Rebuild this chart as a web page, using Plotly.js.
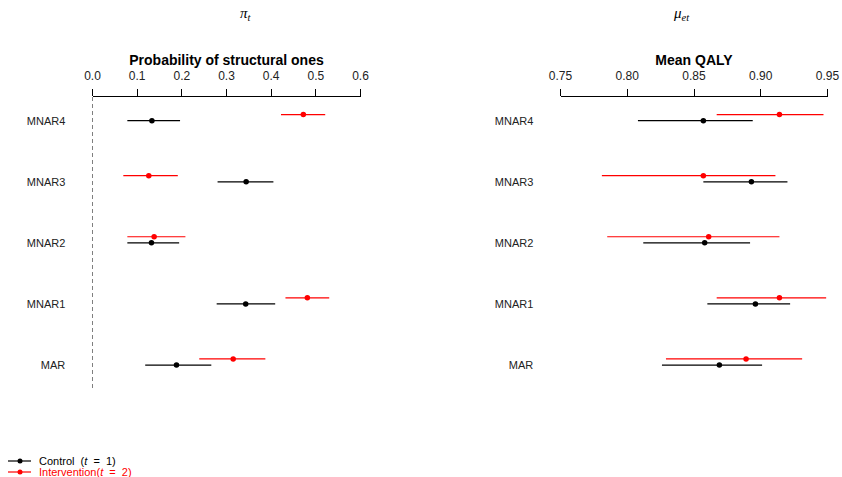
<!DOCTYPE html>
<html>
<head>
<meta charset="utf-8">
<script src="https://cdn.plot.ly/plotly-3.0.1.min.js"></script>
<style>html,body{margin:0;padding:0;background:#fff;}#chart{width:842px;height:477px;}</style>
</head>
<body>
<div id="chart"></div>
<script>
// categories (bottom to top)
const categories = ['MAR', 'MNAR1', 'MNAR2', 'MNAR3', 'MNAR4'];

// Probability of structural ones (pi_t)
const piControlMean  = [0.188, 0.343, 0.132, 0.344, 0.133];
const piControlLow   = [0.118, 0.278, 0.078, 0.280, 0.078];
const piControlHigh  = [0.266, 0.409, 0.194, 0.405, 0.196];
const piInterMean    = [0.315, 0.481, 0.138, 0.126, 0.472];
const piInterLow     = [0.239, 0.432, 0.078, 0.069, 0.422];
const piInterHigh    = [0.387, 0.530, 0.208, 0.191, 0.521];

// Mean QALY (mu_et)
const muControlMean  = [0.869, 0.896, 0.858, 0.893, 0.857];
const muControlLow   = [0.826, 0.860, 0.812, 0.857, 0.808];
const muControlHigh  = [0.901, 0.922, 0.892, 0.920, 0.894];
const muInterMean    = [0.889, 0.914, 0.861, 0.857, 0.914];
const muInterLow     = [0.829, 0.867, 0.785, 0.781, 0.867];
const muInterHigh    = [0.931, 0.949, 0.914, 0.911, 0.947];

const piTicks = [0, 0.1, 0.2, 0.3, 0.4, 0.5, 0.6];
const piTickText = ['0.0', '0.1', '0.2', '0.3', '0.4', '0.5', '0.6'];
const muTicks = [0.75, 0.80, 0.85, 0.90, 0.95];
const muTickText = ['0.75', '0.80', '0.85', '0.90', '0.95'];

const NB = '\u00a0';
const legendNames = ['Control' + NB + NB + '(<i>t</i>' + NB + NB + '=' + NB + NB + '1)',
                     'Intervention(<i>t</i>' + NB + NB + '=' + NB + NB + '2)'];
const legendColors = ['#000000', '#ff0000'];

const FONT = 'Liberation Sans, Arial, sans-serif';
const redOffset = 0.1;
const idx = categories.map((c, i) => i);

function ci(mean, low, high, color, dy, xa, ya, name) {
  return {
    type: 'scatter', mode: 'markers', name: name, showlegend: false,
    x: mean, y: idx.map(i => i + dy), xaxis: xa, yaxis: ya,
    marker: {color: color, size: 5.5},
    error_x: {type: 'data', symmetric: false,
      array: mean.map((m, i) => high[i] - m),
      arrayminus: mean.map((m, i) => m - low[i]),
      color: color, thickness: 1.2, width: 0},
    hoverinfo: 'x+y'
  };
}

const traces = [
  ci(piControlMean, piControlLow, piControlHigh, legendColors[0], 0, 'x', 'y', 'Control'),
  ci(piInterMean, piInterLow, piInterHigh, legendColors[1], redOffset, 'x', 'y', 'Intervention'),
  ci(muControlMean, muControlLow, muControlHigh, legendColors[0], 0, 'x2', 'y2', 'Control'),
  ci(muInterMean, muInterLow, muInterHigh, legendColors[1], redOffset, 'x2', 'y2', 'Intervention')
];

function xax(domain, range, tickvals, ticktext, title) {
  return {
    domain: domain, range: range, side: 'top', showline: true, linecolor: '#000', linewidth: 1,
    ticks: 'outside', ticklen: 7, tickwidth: 1, tickcolor: '#000',
    tickvals: tickvals, ticktext: ticktext, showgrid: false, zeroline: false,
    tickfont: {family: FONT, size: 12, color: '#222'}, ticklabelstandoff: 4,
    title: {text: '<b>' + title + '</b>', font: {family: FONT, size: 14, color: '#000'}, standoff: 0},
    fixedrange: true
  };
}
function yax(anchor) {
  return {
    anchor: anchor, range: [-0.376, 4.388], tickvals: idx, ticktext: categories,
    showline: false, showgrid: false, zeroline: false,
    ticks: 'outside', ticklen: 24, tickcolor: 'rgba(0,0,0,0)',
    tickfont: {family: FONT, size: 11, color: '#222'}, fixedrange: true
  };
}

// plot area spans pixels 97..388 vertically
const PT = 97, PB = 388;
function py(pix) { return (PB - pix) / (PB - PT); }

const shapes = [
  {type: 'line', xref: 'x', yref: 'y domain', x0: 0, x1: 0, y0: 0, y1: 1,
   line: {color: '#000', width: 1, dash: '4px,3px'}}
];
const annotations = [
  {xref: 'paper', yref: 'paper', x: 238 / 842, y: py(14), yanchor: 'middle', text: '<i>π</i><sub><i>t</i></sub>', showarrow: false,
   font: {family: 'Liberation Serif, serif', size: 15, color: '#000'}},
  {xref: 'paper', yref: 'paper', x: 692 / 842, y: py(14), yanchor: 'middle', text: '<i>μ</i><sub><i>et</i></sub>', showarrow: false,
   font: {family: 'Liberation Serif, serif', size: 15, color: '#000'}}
];
legendNames.forEach((nm, k) => {
  const yy = 461 + k * 11;
  shapes.push({type: 'line', xref: 'paper', yref: 'paper', x0: 8 / 842, x1: 31 / 842, y0: py(yy), y1: py(yy),
               line: {color: legendColors[k], width: 1.2}});
  shapes.push({type: 'circle', xref: 'paper', yref: 'paper', x0: 17.5 / 842, x1: 22.5 / 842,
               y0: py(yy - 2.5), y1: py(yy + 2.5), fillcolor: legendColors[k], line: {color: legendColors[k], width: 0}});
  annotations.push({xref: 'paper', yref: 'paper', x: 37 / 842, y: py(yy), xanchor: 'left', yanchor: 'middle',
                    text: nm, showarrow: false, font: {family: FONT, size: 11, color: legendColors[k]}});
});

const layout = {
  width: 842, height: 477,
  margin: {l: 0, r: 0, t: PT, b: 477 - PB, autoexpand: false},
  paper_bgcolor: '#fff', plot_bgcolor: '#fff',
  xaxis: Object.assign(xax([92.5 / 842, 360.5 / 842], [0, 0.6], piTicks, piTickText, 'Probability of structural ones'), {anchor: 'y'}),
  yaxis: yax('x'),
  xaxis2: Object.assign(xax([560.5 / 842, 827.5 / 842], [0.75, 0.95], muTicks, muTickText, 'Mean QALY'), {anchor: 'y2'}),
  yaxis2: yax('x2'),
  shapes: shapes,
  annotations: annotations,
  showlegend: false
};

Plotly.newPlot('chart', traces, layout, {displayModeBar: false, staticPlot: true});
</script>
</body>
</html>
